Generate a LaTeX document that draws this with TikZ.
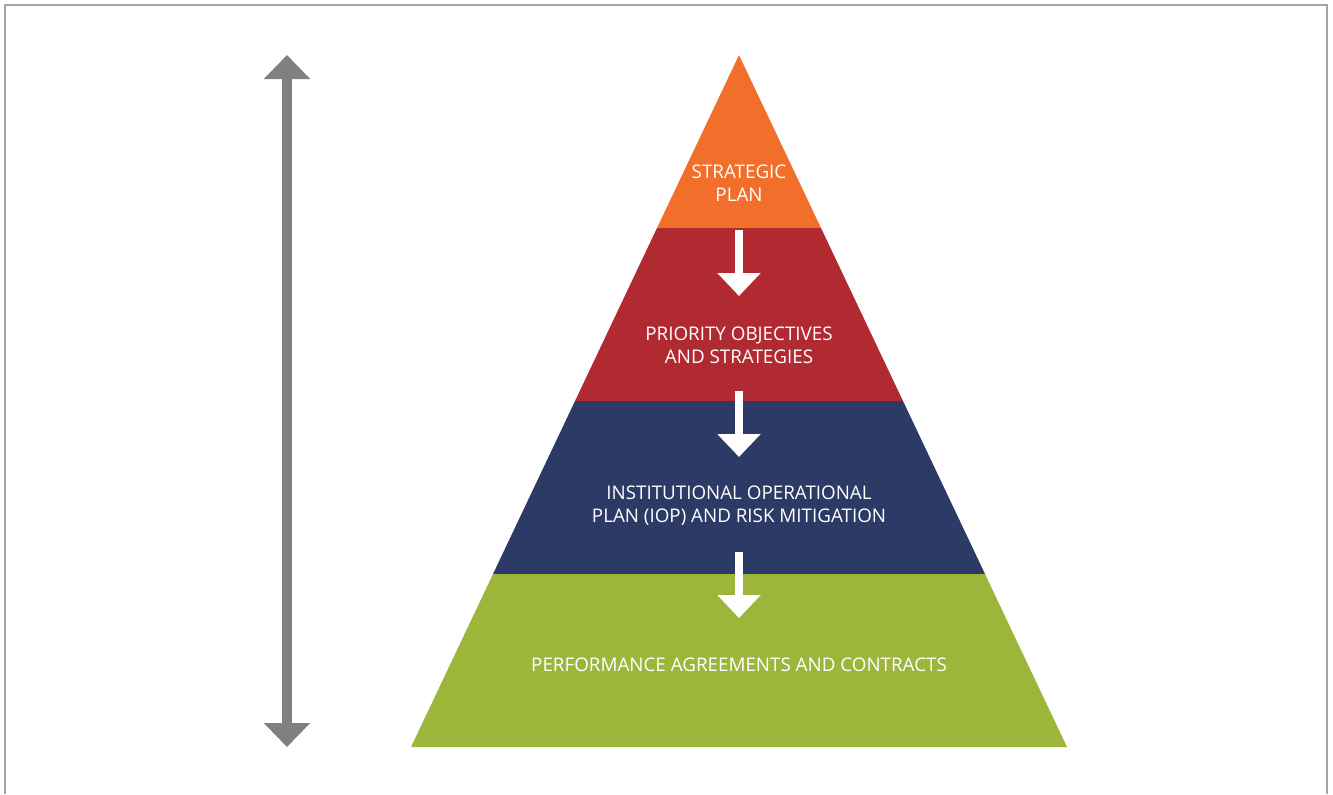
\documentclass[tikz,border=0pt]{standalone}
\usepackage{fontspec}
\setmainfont{Open Sans}
\usetikzlibrary{arrows.meta}

\definecolor{planorange}{HTML}{F26F2B}
\definecolor{planred}{HTML}{B22A31}
\definecolor{plannavy}{HTML}{2C3A66}
\definecolor{plangreen}{HTML}{9EB53B}
\definecolor{scalegray}{HTML}{808083}
\definecolor{framegray}{HTML}{A3A3A3}

\begin{document}
\begin{tikzpicture}[x=0.75pt,y=-0.75pt]

	\tikzstyle layer text=[text=white, align=center, font=\fontsize{14.1}{17.25}\selectfont];
	\tikzstyle flow arrow=[white, line width=6pt, -{Triangle[width=31.5pt,length=17.25pt]}];
	\tikzstyle scale arrow=[scalegray, line width=7.5pt, {Triangle[width=33.75pt,length=18pt]}-{Triangle[width=33.75pt,length=18pt]}];

	\useasboundingbox (0,0) rectangle (1333,794);
	\draw[framegray, line width=1pt] (5,794) -- (5,5) -- (1327,5) -- (1327,794);

	% pyramid bands
	\fill[planorange] (739,55) -- (821,228) -- (657,228) -- cycle;
	\fill[planred] (657,228) -- (821,228) -- (903,401) -- (575,401) -- cycle;
	\fill[plannavy] (575,401) -- (903,401) -- (985,574) -- (493,574) -- cycle;
	\fill[plangreen] (493,574) -- (985,574) -- (1067,747) -- (411,747) -- cycle;

	\node[layer text] (strategic) at (739,183) {STRATEGIC\\PLAN};
	\node[layer text] (priority) at (739,345) {PRIORITY OBJECTIVES\\AND STRATEGIES};
	\node[layer text] (iop) at (739,506) {INSTITUTIONAL OPERATIONAL\\PLAN (IOP) AND RISK MITIGATION};
	\node[layer text] (performance) at (739,665) {PERFORMANCE AGREEMENTS AND CONTRACTS};

	% flow arrows
		\foreach \s/\e in {230/296,391/457,552/618}
			\draw[flow arrow] (739,\s) -- (739,\e);

	\coordinate (scaletop) at (287,55);
	\coordinate (scalebottom) at (287,747);
	\draw[scale arrow] (scaletop) -- (scalebottom);

\end{tikzpicture}
\end{document}
